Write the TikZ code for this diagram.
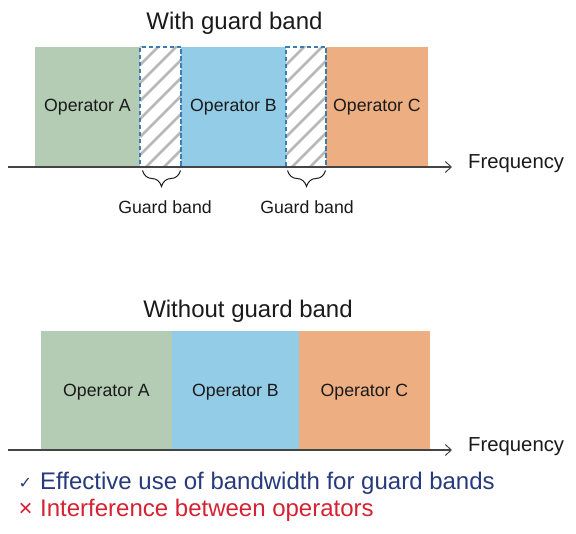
\documentclass[tikz,border=0pt]{standalone}
\usepackage{fontspec}
\setmainfont{Liberation Sans}
\newfontfamily\symfont{DejaVu Sans}
\usetikzlibrary{decorations.pathreplacing,arrows.meta}

\definecolor{opA}{HTML}{B3CCB3}
\definecolor{opB}{HTML}{93CCE6}
\definecolor{opC}{HTML}{EDAF82}
\definecolor{gbline}{HTML}{3A7DB5}
\definecolor{hatchcol}{HTML}{B8B8B8}
\definecolor{axiscol}{HTML}{444444}
\definecolor{txt}{HTML}{1A1A1A}
\definecolor{goodcol}{HTML}{263A7C}
\definecolor{badcol}{HTML}{D42232}

\begin{document}
\begin{tikzpicture}[x=1pt,y=-1pt,
  band/.style={rectangle, inner sep=0pt, outer sep=0pt, anchor=north west, text=txt,
    font=\fontsize{17.7}{20}\selectfont},
  guard/.style={rectangle, inner sep=0pt, outer sep=0pt, anchor=north west,
    draw=gbline, line width=1.2pt, dash pattern=on 4.5pt off 2.5pt},
  hatchline/.style={draw=hatchcol, line width=2.6pt},
  axis/.style={draw=axiscol, line width=1.1pt,
    -{Straight Barb[length=6pt,width=11pt,line width=1pt]}},
  freq/.style={anchor=base west, text=txt, font=\fontsize{20.3}{24}\selectfont, inner sep=0pt},
  title/.style={anchor=base, text=txt, font=\fontsize{24}{28}\selectfont, inner sep=0pt},
  gblabel/.style={anchor=base, text=txt, font=\fontsize{17.7}{20}\selectfont, inner sep=0pt},
  gbbrace/.style={draw=txt, line width=1pt,
    decorate, decoration={brace, mirror, amplitude=16pt}},
  note/.style={anchor=base west, font=\fontsize{24}{28}\selectfont, inner sep=0pt}
]
\useasboundingbox (0,0) rectangle (576,534);

% ---------- With guard band ----------
\node[title] (t1) at (234.5,29.5) {With guard band};

\node[band, fill=opA, minimum width=105pt, minimum height=120pt] (a1) at (35,47) {Operator A};
\node[band, fill=opB, minimum width=105pt, minimum height=120pt] (b1) at (181,47) {Operator B};
\node[band, fill=opC, minimum width=102pt, minimum height=120pt] (c1) at (326,47) {Operator C};

\begin{scope}
  \clip (140,47) rectangle (181,167);
  \foreach \k in {0,...,9} \draw[hatchline] (140,{47+\k*18}) -- ++(80,-80);
\end{scope}
\begin{scope}
  \clip (286,47) rectangle (326,167);
  \foreach \k in {0,...,9} \draw[hatchline] (286,{47+\k*18}) -- ++(80,-80);
\end{scope}
\node[guard, minimum width=41pt, minimum height=120pt] (g1) at (140,47) {};
\node[guard, minimum width=40pt, minimum height=120pt] (g2) at (286,47) {};

\coordinate (ax1s) at (8,167);
\coordinate (ax1e) at (452,167);
\draw[axis] (ax1s) -- (ax1e);
\node[freq] (f1) at (468,168.5) {Frequency};

\coordinate (br1a) at (142.5,170.5);
\coordinate (br1b) at (180.5,170.5);
\coordinate (br2a) at (287.5,170.5);
\coordinate (br2b) at (325.5,170.5);
\draw[gbbrace] (br1a) -- (br1b);
\draw[gbbrace] (br2a) -- (br2b);
\node[gblabel] (l1) at (165,214) {Guard band};
\node[gblabel] (l2) at (307,214) {Guard band};

% ---------- Without guard band ----------
\node[title] (t2) at (248,317.5) {Without guard band};

\begin{scope}[every node/.append style={text depth=1pt}]
\node[band, fill=opA, minimum width=131pt, minimum height=119pt] (a2) at (41,331) {Operator A};
\node[band, fill=opB, minimum width=127pt, minimum height=119pt] (b2) at (172,331) {Operator B};
\node[band, fill=opC, minimum width=131pt, minimum height=119pt] (c2) at (299,331) {Operator C};
\end{scope}

\coordinate (ax2s) at (8,450);
\coordinate (ax2e) at (452,450);
\draw[axis] (ax2s) -- (ax2e);
\node[freq] (f2) at (468,451.5) {Frequency};

% ---------- Notes ----------
\node[note, text=goodcol] (n1m) at (18.5,488.5) {\symfont\fontsize{16}{18}\selectfont ✓};
\node[note, text=goodcol] (n1) at (40,489.3) {Effective use of bandwidth for guard bands};
\node[note, text=badcol] (n2m) at (18.5,516.5) {×};
\node[note, text=badcol] (n2) at (40,516.7) {Interference between operators};
\end{tikzpicture}
\end{document}
